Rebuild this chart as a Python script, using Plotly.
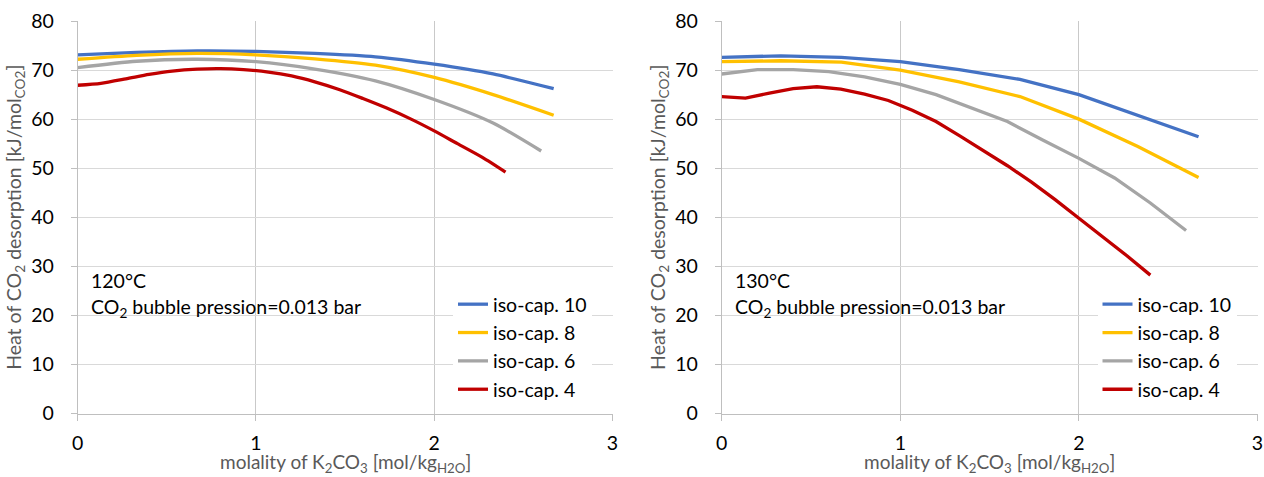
import plotly.graph_objects as go

# ---------------- data ----------------
series_names = ["iso-cap. 10", "iso-cap. 8", "iso-cap. 6", "iso-cap. 4"]
series_colors = ["#4472C4", "#FFC000", "#A5A5A5", "#C00000"]

# 120 °C panel
L_blue_x = [0, 0.33, 0.67, 1.0, 1.33, 1.67, 2.0, 2.33, 2.67]
L_blue_y = [73.1, 73.6, 73.9, 73.8, 73.4, 72.7, 71.2, 69.2, 66.2]
L_yellow_x = [0, 0.33, 0.67, 1.0, 1.33, 1.67, 2.0, 2.33, 2.67]
L_yellow_y = [72.2, 73.0, 73.4, 73.1, 72.3, 71.0, 68.5, 65.0, 60.8]
L_gray_x = [0, 0.33, 0.67, 1.0, 1.33, 1.67, 2.0, 2.33, 2.6]
L_gray_y = [70.5, 71.8, 72.2, 71.7, 70.2, 67.8, 64.0, 59.2, 53.5]
L_red_x = [0, 0.13, 0.27, 0.4, 0.53, 0.67, 0.8, 0.93, 1.07, 1.2, 1.33, 1.47,
           1.6, 1.73, 1.87, 2.0, 2.13, 2.27, 2.4]
L_red_y = [66.9, 67.3, 68.2, 69.1, 69.8, 70.2, 70.3, 70.1, 69.6, 68.8, 67.6, 66.0,
           64.2, 62.3, 60.0, 57.6, 55.0, 52.2, 49.2]

# 130 °C panel
R_blue_x = [0, 0.33, 0.67, 1.0, 1.33, 1.67, 2.0, 2.33, 2.67]
R_blue_y = [72.6, 72.9, 72.6, 71.7, 70.1, 68.1, 65.0, 60.8, 56.4]
R_yellow_x = [0, 0.33, 0.67, 1.0, 1.33, 1.67, 2.0, 2.33, 2.67]
R_yellow_y = [71.7, 71.9, 71.6, 70.0, 67.6, 64.6, 60.0, 54.4, 48.1]
R_gray_x = [0, 0.2, 0.4, 0.6, 0.8, 1.0, 1.2, 1.4, 1.6, 1.8, 2.0, 2.2, 2.4, 2.6]
R_gray_y = [69.2, 70.1, 70.1, 69.7, 68.6, 67.1, 65.0, 62.3, 59.5, 55.7, 52.0, 48.0, 42.9, 37.3]
R_red_x = [0, 0.133, 0.267, 0.4, 0.533, 0.667, 0.8, 0.933, 1.067, 1.2, 1.333, 1.467,
           1.6, 1.733, 1.867, 2.0, 2.133, 2.267, 2.4]
R_red_y = [64.6, 64.3, 65.3, 66.2, 66.6, 66.1, 65.1, 63.8, 61.8, 59.5, 56.6, 53.6,
           50.5, 47.2, 43.6, 39.8, 36.1, 32.2, 28.2]

x_ticks = [0, 1, 2, 3]
y_ticks = [0, 10, 20, 30, 40, 50, 60, 70, 80]
panel_labels = ["120°C", "130°C"]
note_text = "CO<sub>2</sub> bubble pression=0.013 bar"
x_title = "molality of K<sub>2</sub>CO<sub>3</sub> [mol/kg<sub>H2O</sub>]"
y_title = "Heat of CO<sub>2</sub> desorption [kJ/mol<sub>CO2</sub>]"

FONT = "Lato"
FS = 19.5
W, H = 1264, 477

left_sets = [(L_blue_x, L_blue_y), (L_yellow_x, L_yellow_y), (L_gray_x, L_gray_y), (L_red_x, L_red_y)]
right_sets = [(R_blue_x, R_blue_y), (R_yellow_x, R_yellow_y), (R_gray_x, R_gray_y), (R_red_x, R_red_y)]

fig = go.Figure()
for i, (xs, ys) in enumerate(left_sets):
    fig.add_trace(go.Scatter(x=xs, y=ys, mode="lines", name=series_names[i],
                             line=dict(color=series_colors[i], width=3.3, shape="spline", smoothing=0.7),
                             xaxis="x", yaxis="y", legend="legend", legendgroup="L%d" % i))
for i, (xs, ys) in enumerate(right_sets):
    fig.add_trace(go.Scatter(x=xs, y=ys, mode="lines", name=series_names[i],
                             line=dict(color=series_colors[i], width=3.3),
                             xaxis="x2", yaxis="y2", legend="legend2", legendgroup="R%d" % i))

def xax(domain, anchor):
    return dict(domain=domain, anchor=anchor, range=[0, 3], tickvals=x_ticks, automargin=False,
                showgrid=True, gridcolor="#c9c9c9", gridwidth=1, zeroline=False,
                showline=True, linecolor="#bfbfbf", linewidth=1,
                ticks="outside", ticklen=6, tickcolor="#bfbfbf", ticklabelstandoff=6,
                tickfont=dict(family=FONT, size=FS, color="#000000"))

def yax(domain, anchor):
    return dict(domain=domain, anchor=anchor, range=[0, 80], tickvals=y_ticks, automargin=False,
                showgrid=True, gridcolor="#d9d9d9", gridwidth=1, zeroline=False,
                showline=True, linecolor="#bfbfbf", linewidth=1,
                ticks="outside", ticklen=6, tickcolor="#bfbfbf", ticklabelstandoff=13,
                tickfont=dict(family=FONT, size=FS, color="#000000"),
                title=dict(text=y_title, font=dict(family=FONT, size=FS, color="#595959"), standoff=4))

xdom1 = [77.7 / W, 612.5 / W]
xdom2 = [721.7 / W, 1257.5 / W]
ydom = [1 - 413.5 / H, 1 - 21 / H]
leg = dict(y=1 - 285 / H, xanchor="left", yanchor="top",
           bgcolor="white", borderwidth=0, tracegroupgap=0, itemwidth=30,
           font=dict(family=FONT, size=FS, color="#000000"))
fig.update_layout(
    width=W, height=H, margin=dict(l=0, r=0, t=0, b=0),
    paper_bgcolor="white", plot_bgcolor="white",
    font=dict(family=FONT, size=FS, color="#000000"),
    xaxis=xax(xdom1, "y"),
    yaxis=yax(ydom, "x"),
    xaxis2=xax(xdom2, "y2"),
    yaxis2=yax(ydom, "x2"),
    legend=dict(x=453 / W, **leg),
    legend2=dict(x=(453 + 644.5) / W, **leg),
    showlegend=True,
)

for k, (xr, yr) in enumerate([("x", "y"), ("x2", "y2")]):
    fig.add_annotation(x=0.065, y=27.2, xref=xr, yref=yr, text=panel_labels[k],
                       showarrow=False, xanchor="left", yanchor="middle",
                       font=dict(family=FONT, size=FS, color="#000000"))
    fig.add_annotation(x=0.065, y=21.6, xref=xr, yref=yr, text=note_text,
                       showarrow=False, xanchor="left", yanchor="middle",
                       font=dict(family=FONT, size=FS, color="#000000"))

# x-axis titles, centred under each plot area, resting on the bottom edge
for dom in (xdom1, xdom2):
    fig.add_annotation(x=(dom[0] + dom[1]) / 2, y=0, xref="paper", yref="paper",
                       text=x_title, showarrow=False, xanchor="center", yanchor="bottom",
                       borderpad=0,
                       font=dict(family=FONT, size=19, color="#595959"))

fig.write_html("out.html")
